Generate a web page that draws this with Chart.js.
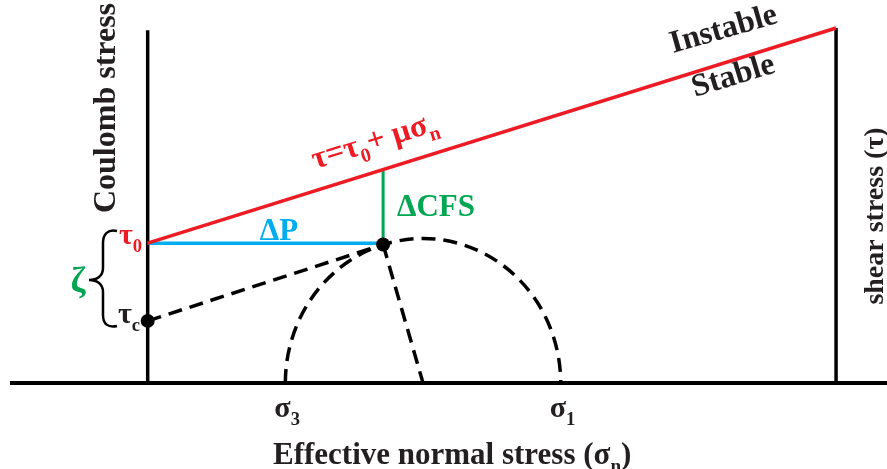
<!DOCTYPE html>
<html>
<head>
<meta charset="utf-8">
<script src="https://cdn.jsdelivr.net/npm/chart.js@4"></script>
<style>
    body { margin: 0; background: #fff; }
    #wrap { width: 887px; height: 469px; }
</style>
</head>
<body>
<div id="wrap"><canvas id="coulomb" width="887" height="469"></canvas></div>
<script>
// Rango de esfuerzo normal y marco del diagrama
var normalRange = [-20, 107.4];
var frameX = [0, 100];
var frameTop = [99.4, 100];

// Envolvente de falla  tau = tau0 + mu * sigma_n
var envelopeX = [0, 100];
var envelopeY = [39.4, 100];

// Estado de esfuerzos
var tau0 = 39.4;
var tauC = 17.5;
var statePoint = [34.2, 39.0];
var sigmaX = [20, 60];          // sigma3, sigma1
var sigmaNames = ['3', '1'];
var circleHeight = 40.7;

var ROJO = '#ed1c24', AZUL = '#00aeef', VERDE = '#00a651', NEGRO = '#231f20';
var SERIF = '"Liberation Serif", "Times New Roman", serif';

// pendiente de la envolvente y su valor sobre el punto de estado
var mu = (envelopeY[1] - envelopeY[0]) / (envelopeX[1] - envelopeX[0]);
var tauEnvelope = envelopeY[0] + mu * (statePoint[0] - envelopeX[0]);
var centroCirculo = (sigmaX[0] + sigmaX[1]) / 2;

function linea(puntos, color, ancho, orden, guiones) {
    return {
        data: puntos,
        showLine: true,
        borderColor: color,
        borderWidth: ancho,
        borderDash: guiones || [],
        borderCapStyle: 'butt',
        pointRadius: 0,
        fill: false,
        clip: false,
        order: orden
    };
}

// Texto con subindices: partes = [[texto, esSub], ...]
function textoRico(ctx, partes, x, y, size, color, align) {
    var ancho = 0;
    partes.forEach(function (p) {
        ctx.font = 'bold ' + (p[1] ? size * 0.62 : size) + 'px ' + SERIF;
        ancho += ctx.measureText(p[0]).width;
    });
    var cx = x;
    if (align === 'center') cx = x - ancho / 2;
    if (align === 'right') cx = x - ancho;
    ctx.fillStyle = color;
    ctx.textAlign = 'left';
    ctx.textBaseline = 'alphabetic';
    partes.forEach(function (p) {
        ctx.font = 'bold ' + (p[1] ? size * 0.62 : size) + 'px ' + SERIF;
        ctx.fillText(p[0], cx, y + (p[1] ? size * 0.26 : 0));
        cx += ctx.measureText(p[0]).width;
    });
}

function textoGirado(ctx, partes, x, y, grados, size, color, align) {
    ctx.save();
    ctx.translate(x, y);
    ctx.rotate(grados * Math.PI / 180);
    textoRico(ctx, partes, 0, 0, size, color, align);
    ctx.restore();
}

// Circulo de Mohr (mitad superior, discontinuo)
var circuloMohr = {
    id: 'circuloMohr',
    beforeDatasetsDraw: function (chart) {
        var ctx = chart.ctx, xs = chart.scales.x, ys = chart.scales.y;
        var x3 = xs.getPixelForValue(sigmaX[0]);
        var x1 = xs.getPixelForValue(sigmaX[1]);
        var y0 = ys.getPixelForValue(0);
        var ry = y0 - ys.getPixelForValue(circleHeight);
        ctx.save();
        ctx.strokeStyle = '#000';
        ctx.lineWidth = 3.5;
        ctx.setLineDash([14, 8]);
        ctx.beginPath();
        ctx.ellipse((x3 + x1) / 2, y0, (x1 - x3) / 2, ry, 0, Math.PI, 2 * Math.PI);
        ctx.stroke();
        ctx.restore();
    }
};

// Etiquetas del diagrama
var etiquetas = {
    id: 'etiquetas',
    afterDraw: function (chart) {
        var ctx = chart.ctx, xs = chart.scales.x, ys = chart.scales.y;

        textoGirado(ctx, [['Coulomb stress', false]], 115, 108, -90, 32, NEGRO, 'center');
        textoGirado(ctx, [['shear stress (\u03c4)', false]], 883, 216, -90, 28, NEGRO, 'center');
        textoRico(ctx, [['Effective normal stress (\u03c3', false], ['n', true], [')', false]], 273, 464, 31, NEGRO, 'left');

        // sigma3 y sigma1 bajo el eje
        sigmaX.forEach(function (s, i) {
            var px = xs.getPixelForValue(s);
            textoRico(ctx, [['\u03c3', false], [sigmaNames[i], true]], px - 11, 417, 30, NEGRO, 'left');
        });

        textoGirado(ctx, [['Instable', false]], 673, 53, -16, 32, NEGRO, 'left');
        textoGirado(ctx, [['Stable', false]], 695, 97, -17, 32, NEGRO, 'left');

        textoGirado(ctx, [['\u03c4=\u03c4', false], ['0', true], ['+ \u03bc\u03c3', false], ['n', true]],
            315, 169, -17.35, 32, ROJO, 'left');

        textoRico(ctx, [['\u0394CFS', false]], 397, 216, 31, VERDE, 'left');
        textoRico(ctx, [['\u0394P', false]], 279, 240, 31, AZUL, 'center');

        var yT0 = ys.getPixelForValue(tau0);
        var yTc = ys.getPixelForValue(tauC);
        textoRico(ctx, [['\u03c4', false], ['0', true]], 142, yT0 + 1, 30, ROJO, 'right');
        textoRico(ctx, [['\u03c4', false], ['c', true]], 140, yTc + 2, 30, NEGRO, 'right');
        textoRico(ctx, [['\u03b6', false]], 78, 292, 36, VERDE, 'center');

        // llave entre tau0 y tauc
        ctx.save();
        ctx.strokeStyle = '#000';
        ctx.lineWidth = 2.5;
        ctx.beginPath();
        ctx.moveTo(117, 231);
        ctx.bezierCurveTo(108, 229, 103, 234, 103, 243);
        ctx.lineTo(103, 268);
        ctx.bezierCurveTo(103, 276, 97, 280, 89, 280);
        ctx.bezierCurveTo(97, 280, 103, 284, 103, 292);
        ctx.lineTo(103, 315);
        ctx.bezierCurveTo(103, 324, 108, 328, 117, 326);
        ctx.stroke();
        ctx.restore();
    }
};

var ctx = document.getElementById('coulomb').getContext('2d');
var diagrama = new Chart(ctx, {
    type: 'scatter',
    data: {
        datasets: [
            {
                data: [{ x: 0, y: tauC }, { x: statePoint[0], y: statePoint[1] }],
                pointRadius: 7,
                pointBackgroundColor: '#000',
                pointBorderWidth: 0,
                clip: false,
                order: 0
            },
            linea([{ x: envelopeX[0], y: envelopeY[0] }, { x: envelopeX[1], y: envelopeY[1] }], ROJO, 3.5, 1),
            linea([{ x: statePoint[0], y: tau0 }, { x: statePoint[0], y: tauEnvelope }], VERDE, 3, 2),
            linea([{ x: 0, y: tau0 }, { x: statePoint[0], y: tau0 }], AZUL, 3.5, 2),
            linea([{ x: normalRange[0], y: 0 }, { x: normalRange[1], y: 0 }], '#000', 4, 3),
            linea([{ x: frameX[0], y: 0 }, { x: frameX[0], y: frameTop[0] }], '#000', 3.5, 3),
            linea([{ x: frameX[1], y: 0 }, { x: frameX[1], y: frameTop[1] }], '#000', 3.5, 3),
            linea([{ x: 0, y: tauC }, { x: statePoint[0], y: statePoint[1] }], '#000', 3.5, 4, [14, 8]),
            linea([{ x: statePoint[0], y: statePoint[1] }, { x: centroCirculo, y: 0 }], '#000', 3.5, 4, [14, 8])
        ]
    },
    options: {
        responsive: false,
        animation: false,
        devicePixelRatio: 1,
        layout: { autoPadding: false, padding: { left: 10, right: 0, top: 28, bottom: 86 } },
        plugins: { legend: { display: false }, tooltip: { enabled: false } },
        scales: {
            x: { type: 'linear', min: normalRange[0], max: normalRange[1], display: false },
            y: { type: 'linear', min: 0, max: 100, display: false }
        }
    },
    plugins: [circuloMohr, etiquetas]
});
</script>
</body>
</html>
